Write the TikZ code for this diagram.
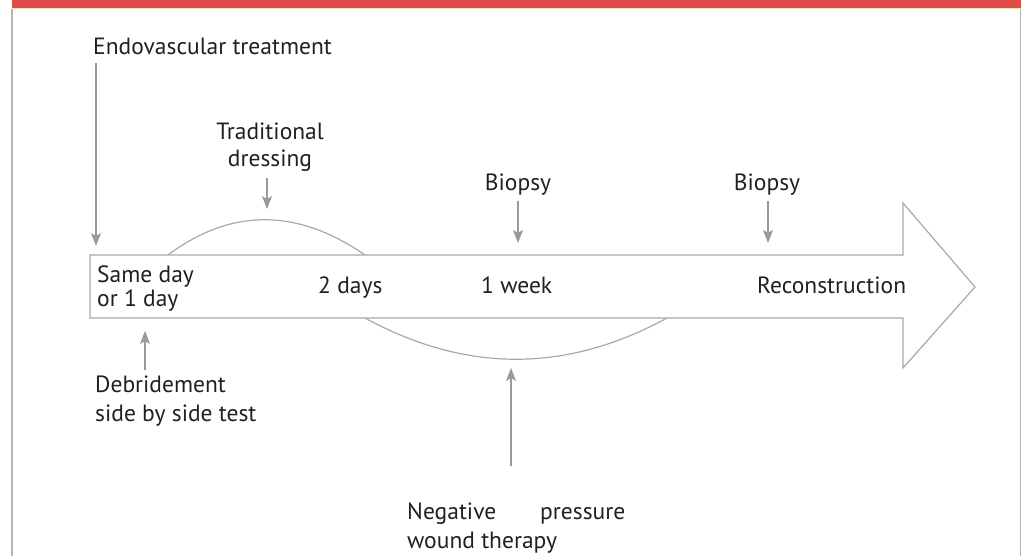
\documentclass[tikz,border=0pt]{standalone}
\usepackage{fontspec}
\setmainfont{PT Sans}
\usetikzlibrary{arrows.meta}
\definecolor{bannerred}{HTML}{E04B48}
\definecolor{paleline}{HTML}{EAE6C4}
\definecolor{framegray}{HTML}{B4B4B4}
\definecolor{linegray}{HTML}{999999}
\definecolor{shapegray}{HTML}{A8A8A8}
\definecolor{txt}{HTML}{231F20}
\tikzset{
  lbl/.style={inner sep=0pt, text=txt, font=\fontsize{23.5}{27}\selectfont},
  pointer/.style={draw=linegray, line width=1.2pt, -{Stealth[length=13pt,width=10pt,inset=3pt]}},
  outline/.style={draw=shapegray, line width=1.2pt}
}
\begin{document}
\begin{tikzpicture}[x=1pt,y=-1pt]
\useasboundingbox (0,0) rectangle (1022,556);
% frame
\fill[bannerred] (12,0) rectangle (1021,8);
\fill[paleline] (12,8) rectangle (1021,9.5);
\draw[framegray, line width=1.5pt] (12,9.5) -- (12,556);
\draw[framegray, line width=1.5pt] (1020.5,9.5) -- (1020.5,556);
% arcs
\draw[outline] (168,255) .. controls (231,208) and (297,208) .. (365,255);
\draw[outline] (365,318) .. controls (466,373) and (566,373) .. (667,318);
% big arrow
\draw[outline, fill=white] (90,255) -- (903,255) -- (903,203) -- (975,287) -- (903,368) -- (903,318) -- (90,318) -- cycle;
% labels
\node[lbl, anchor=base west] (endo) at (93,55) {Endovascular treatment};
\node[lbl, anchor=base] (trad1) at (270,140) {Traditional};
\node[lbl, anchor=base] (trad2) at (270,167) {dressing};
\node[lbl, anchor=base] (biop1) at (518,190) {Biopsy};
\node[lbl, anchor=base] (biop2) at (767,190) {Biopsy};
\node[lbl, anchor=base west] (same1) at (97,282) {Same day};
\node[lbl, anchor=base west] (same2) at (97,306) {or 1 day};
\node[lbl, anchor=base west] (twod) at (318,293) {2 days};
\node[lbl, anchor=base west] (week) at (481,293) {1 week};
\node[lbl, anchor=base west] (recon) at (757,293) {Reconstruction};
\node[lbl, anchor=base west] (debr1) at (95,392) {Debridement};
\node[lbl, anchor=base west] (debr2) at (95,421) {side by side test};
\node[lbl, anchor=base west] (neg1) at (407,519) {Negative\hspace{44pt}pressure};
\node[lbl, anchor=base west] (neg2) at (407,548) {wound therapy};
% pointer ends
\coordinate (endoEnd) at (96,246);
\coordinate (tradEnd) at (267,209);
\coordinate (biop1End) at (518,243);
\coordinate (biop2End) at (768,243);
\coordinate (debrEnd) at (145,331);
\coordinate (negEnd) at (511,368);
% pointers
\draw[pointer] (endo.south -| endoEnd) ++(0,8) -- (endoEnd);
\draw[pointer] (trad2.south -| tradEnd) ++(0,6) -- (tradEnd);
\draw[pointer] (biop1.south -| biop1End) ++(0,6) -- (biop1End);
\draw[pointer] (biop2.south -| biop2End) ++(0,6) -- (biop2End);
\draw[pointer] (debr1.north -| debrEnd) ++(0,-5) -- (debrEnd);
\draw[pointer] (neg1.north -| negEnd) ++(0,-36) -- (negEnd);
\end{tikzpicture}
\end{document}
